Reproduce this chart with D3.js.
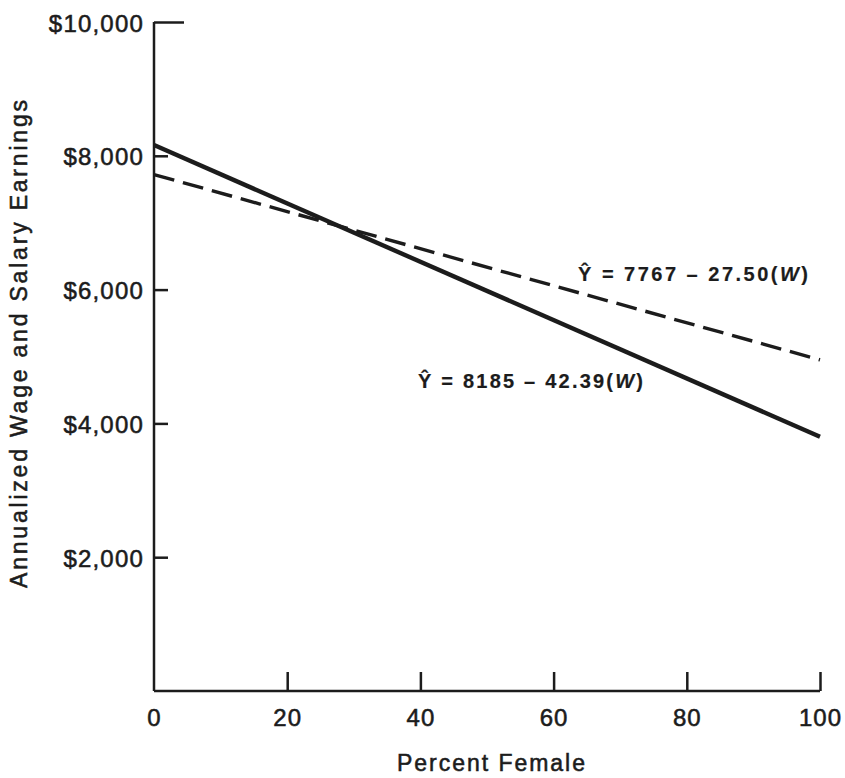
<!DOCTYPE html>
<html>
<head>
<meta charset="utf-8">
<script src="https://cdn.jsdelivr.net/npm/d3@7"></script>
<style>
  html, body { margin: 0; padding: 0; background: #ffffff; }
  svg { display: block; }
  text { font-family: "Liberation Sans", Arial, Helvetica, sans-serif; fill: #1c1c1c; stroke: #1c1c1c; stroke-width: 0.55px; }
</style>
</head>
<body>
<svg id="chart" width="845" height="778"></svg>
<script>
// ---- data ----
const xTickValues = [0, 20, 40, 60, 80, 100];
const xTickLabels = ["0", "20", "40", "60", "80", "100"];
const yTickValues = [2000, 4000, 6000, 8000, 10000];
const yTickLabels = ["$2,000", "$4,000", "$6,000", "$8,000", "$10,000"];
const percentFemale = [0, 100];
const solidEarnings = [8160, 3800];   // Y = 8185 - 42.39(W)
const dashedEarnings = [7720, 4950];  // Y = 7767 - 27.50(W)
const xTitle = "Percent Female";
const yTitle = "Annualized Wage and Salary Earnings";
const dashedLabel = { pre: "Ŷ = 7767 – 27.50(", w: "W", post: ")" };
const solidLabel = { pre: "Ŷ = 8185 – 42.39(", w: "W", post: ")" };

// ---- drawing ----
const svg = d3.select("#chart");
const x = d3.scaleLinear().domain([0, 100]).range([154, 820]);
const y = d3.scaleLinear().domain([0, 10000]).range([691, 22]);
const ink = "#1c1c1c";

// y axis
const yAxis = d3.axisLeft(y)
  .tickValues(yTickValues)
  .tickFormat((d, i) => yTickLabels[i])
  .tickSizeInner(-14)
  .tickSizeOuter(0)
  .tickPadding(10);
const gy = svg.append("g").attr("transform", `translate(${x(0)},0)`).call(yAxis);
gy.select(".domain").attr("stroke", ink).attr("stroke-width", 2.5)
  .attr("d", `M0,${y(10000)}V${y(0)}`);
gy.selectAll(".tick line").attr("stroke", ink).attr("stroke-width", 2.5)
  .attr("x2", d => d === 10000 ? 30 : 14);
gy.selectAll(".tick text")
  .attr("font-size", 24).attr("letter-spacing", 1.2).attr("fill", ink)
  .attr("dy", "0.38em");

// x axis
const xAxis = d3.axisBottom(x)
  .tickValues(xTickValues)
  .tickFormat((d, i) => xTickLabels[i])
  .tickSizeInner(-19)
  .tickSizeOuter(0)
  .tickPadding(18);
const gx = svg.append("g").attr("transform", `translate(0,${y(0)})`).call(xAxis);
gx.select(".domain").attr("stroke", ink).attr("stroke-width", 2.5)
  .attr("d", `M${x(0)},0H${x(100)}`);
gx.selectAll(".tick line").attr("stroke", ink).attr("stroke-width", 2.5)
  .attr("y2", d => d === 0 ? 0 : -19);
gx.selectAll(".tick text")
  .attr("font-size", 24).attr("letter-spacing", 1).attr("fill", ink);

// regression lines
const line = d3.line().x(d => x(d[0])).y(d => y(d[1]));
svg.append("path")
  .datum(percentFemale.map((p, i) => [p, dashedEarnings[i]]))
  .attr("d", line)
  .attr("fill", "none").attr("stroke", ink).attr("stroke-width", 3.4)
  .attr("stroke-dasharray", "21,9");
svg.append("path")
  .datum(percentFemale.map((p, i) => [p, solidEarnings[i]]))
  .attr("d", line)
  .attr("fill", "none").attr("stroke", ink).attr("stroke-width", 4.4);

// equation labels
function eq(lbl, px, py, len) {
  const t = svg.append("text")
    .attr("x", px).attr("y", py)
    .attr("font-size", 20).attr("font-weight", "bold").attr("fill", ink)
    .style("stroke-width", "0.2px")
    .attr("textLength", len).attr("lengthAdjust", "spacing");
  t.append("tspan").text(lbl.pre);
  t.append("tspan").attr("font-style", "italic").text(lbl.w);
  t.append("tspan").text(lbl.post);
}
eq(dashedLabel, 578, 281, 230);
eq(solidLabel, 418, 388, 225);

// axis titles
svg.append("text")
  .attr("x", 491).attr("y", 771)
  .attr("text-anchor", "middle")
  .attr("font-size", 23).attr("fill", ink)
  .attr("textLength", 188).attr("lengthAdjust", "spacing")
  .text(xTitle);
svg.append("text")
  .attr("transform", "translate(27,344) rotate(-90)")
  .attr("text-anchor", "middle")
  .attr("font-size", 23).attr("fill", ink)
  .attr("textLength", 488).attr("lengthAdjust", "spacing")
  .text(yTitle);
</script>
</body>
</html>
